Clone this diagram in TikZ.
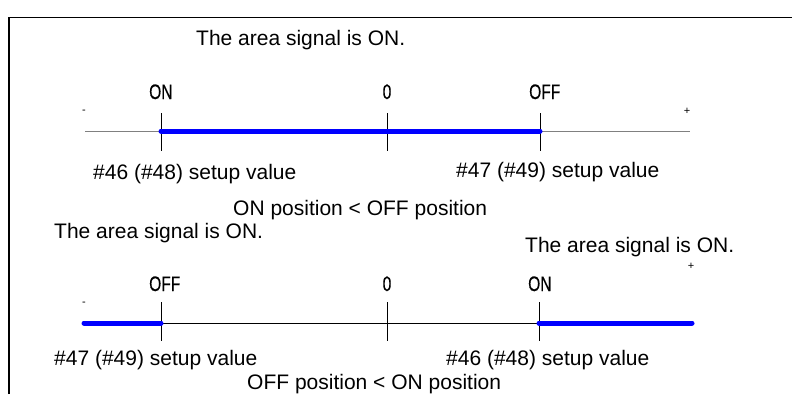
\documentclass[tikz,border=0pt]{standalone}
\usepackage{fontspec}
\setmainfont{Liberation Sans}
\newfontfamily\lblfont[FakeStretch=0.74,FakeBold=0.4]{Liberation Sans}
\usetikzlibrary{calc}
\definecolor{signalblue}{RGB}{0,0,255}
\definecolor{axisgray}{RGB}{128,128,128}
\tikzset{
  every picture/.style={font=\fontsize{21}{25}\selectfont},
  txt/.style={anchor=base west,inner sep=0pt},
  poslbl/.style={font=\lblfont\fontsize{21}{25}\selectfont,inner sep=0pt},
  sign/.style={font=\fontsize{11}{13}\selectfont,inner sep=0pt},
  axisln/.style={line width=0.8pt},
  tickln/.style={line width=0.8pt},
  onzone/.style={signalblue,line width=5pt,line cap=round},
  frame/.style={line width=1.6pt},
}
\begin{document}
\begin{tikzpicture}[x=1pt,y=-1pt]
  \useasboundingbox (0,0) rectangle (792,394);
  \draw[frame] (9,394) -- (9,17.5) -- (792,17.5);

  \node[txt] (title-a) at (196,45) {The area signal is ON.};
  \coordinate (a-min) at (85,131);
  \coordinate (a-on) at (161,131);
  \coordinate (a-zero) at (387,131);
  \coordinate (a-off) at (540,131);
  \coordinate (a-max) at (690,131);
  \draw[axisln,axisgray] (a-min) -- (a-max);
  \foreach \p in {a-on,a-zero,a-off}
    \draw[tickln] ($(\p)+(0,-18)$) -- ($(\p)+(0,20)$);
  \draw[onzone] (a-on) -- (a-off);
  \node[poslbl,anchor=base west] (a-on-lbl) at (149,99) {ON};
  \node[poslbl,anchor=base] (a-zero-lbl) at (387,99) {0};
  \node[poslbl,anchor=base west] (a-off-lbl) at (529,99) {OFF};
  \node[sign] (a-minus) at (84,112) {-};
  \node[sign] (a-plus) at (687,111) {+};
  \node[txt] (a-on-set) at (93,179) {\#46 (\#48) setup value};
  \node[txt] (a-off-set) at (456,177) {\#47 (\#49) setup value};
  \node[txt] (a-cond) at (233,215) {ON position < OFF position};

  \node[txt] (title-b1) at (54,238) {The area signal is ON.};
  \node[txt] (title-b2) at (525,252) {The area signal is ON.};
  \coordinate (b-min) at (84,323);
  \coordinate (b-off) at (161,323);
  \coordinate (b-zero) at (387,323);
  \coordinate (b-on) at (539,323);
  \coordinate (b-max) at (692,323);
  \draw[axisln] (b-min) -- (b-max);
  \foreach \p in {b-off,b-zero,b-on}
    \draw[tickln] ($(\p)+(0,-21)$) -- ($(\p)+(0,18)$);
  \draw[onzone] (b-min) -- (b-off);
  \draw[onzone] (b-on) -- (b-max);
  \node[poslbl,anchor=base west] (b-off-lbl) at (149,291) {OFF};
  \node[poslbl,anchor=base] (b-zero-lbl) at (387,291) {0};
  \node[poslbl,anchor=base west] (b-on-lbl) at (528,291) {ON};
  \node[sign] (b-minus) at (84,304) {-};
  \node[sign] (b-plus) at (691,266) {+};
  \node[txt] (b-off-set) at (54,365) {\#47 (\#49) setup value};
  \node[txt] (b-on-set) at (446,365) {\#46 (\#48) setup value};
  \node[txt] (b-cond) at (247,389) {OFF position < ON position};
\end{tikzpicture}
\end{document}
